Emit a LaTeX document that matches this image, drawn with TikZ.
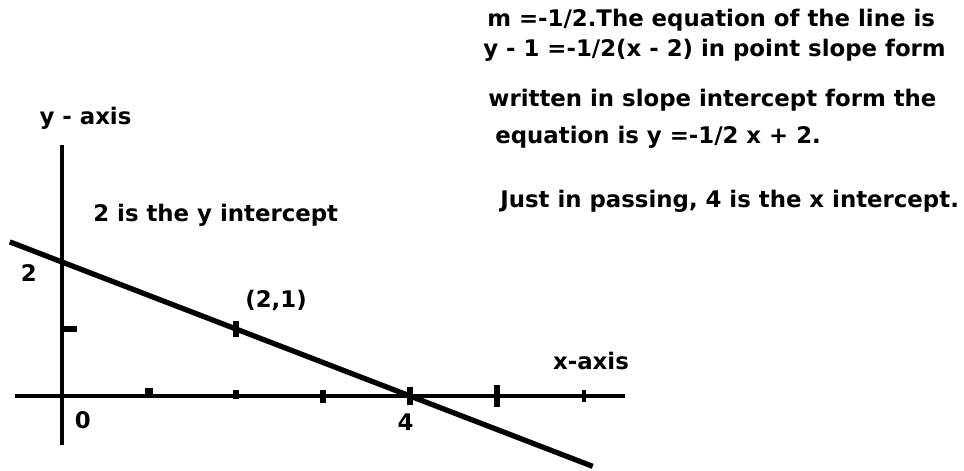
\documentclass[tikz,border=0pt]{standalone}
\usepackage{fontspec}
\setmainfont{DejaVu Sans}

\begin{document}
\begin{tikzpicture}[x=1.74cm, y=1.34cm,
    axis/.style={line width=1.8pt},
    graphline/.style={line width=3pt},
    tickmark/.style={line width=3.4pt},
    lbl/.style={font=\fontsize{13}{15}\selectfont\bfseries, inner sep=0pt},
    eqtext/.style={lbl, anchor=west}]
    \useasboundingbox (-0.7126,-1.1194) rectangle (10.3678,5.9104);

    % Axis end points
    \coordinate (xleft) at (-0.54,0);
    \coordinate (xright) at (6.47,0);
    \coordinate (ybottom) at (0,-0.73);
    \coordinate (ytop) at (0,3.75);
    \coordinate (lstart) at (-0.6,2.3);
    \coordinate (lend) at (6.1,-1.05);

    % Draw axes
    \draw[axis] (xleft) -- (xright);
    \draw[axis] (ybottom) -- (ytop);

    % Draw ticks
    \draw[tickmark, line width=4pt] (1,0) -- (1,0.12);
    \draw[tickmark] (2,-0.05) -- (2,0.09);
    \draw[tickmark] (3,-0.1) -- (3,0.09);
    \draw[tickmark] (4,-0.14) -- (4,0.14);
    \draw[tickmark] (5,-0.16) -- (5,0.16);
    \draw[tickmark, line width=2.6pt] (6,-0.09) -- (6,0.09);
    \draw[tickmark, line width=3.2pt] (0,1) -- (0.17,1);

    % Draw the line
    \draw[graphline] (lstart) -- (lend);
    \draw[tickmark] (2,0.88) -- (2,1.12);

    % Labels
    \node[lbl] (ylabel) at (0.27,4.15) {y - axis};
    \node[lbl] (xlabel) at (6.08,0.52) {x-axis};
    \node[lbl] (zero) at (0.24,-0.36) {0};
    \node[lbl] (four) at (3.95,-0.39) {4};
    \node[lbl] (two) at (-0.38,1.84) {2};
    \node[lbl] (point) at (2.46,1.43) {(2,1)};
    \node[eqtext] (yint) at (0.356,2.70) {2 is the y intercept};

    % Text on the right
    \node[eqtext] (eqA) at (4.884,5.61) {m =-1/2.The equation of the line is};
    \node[eqtext] (eqB) at (4.839,5.16) {y - 1 =-1/2(x - 2) in point slope form};
    \node[eqtext] (eqC) at (4.897,4.42) {written in slope intercept form the};
    \node[eqtext] (eqD) at (4.977,3.867) {equation is y =-1/2 x + 2.};
    \node[eqtext] (eqE) at (5.034,2.90) {Just in passing, 4 is the x intercept.};
\end{tikzpicture}
\end{document}
